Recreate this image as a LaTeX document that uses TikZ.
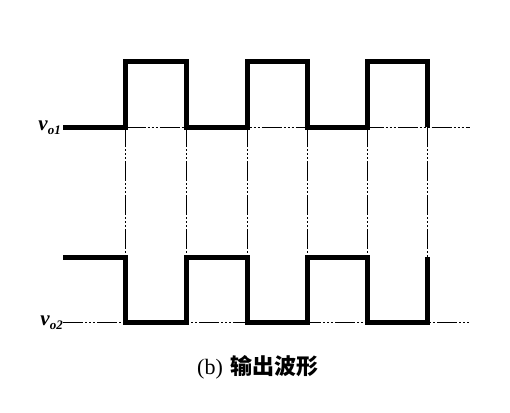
\documentclass[tikz,border=0pt]{standalone}
\usepackage{fontspec}
\setmainfont{Liberation Serif}
\newfontfamily\cjk{Noto Sans CJK SC}
\begin{document}
\begin{tikzpicture}[x=1pt,y=-1pt,
  wave/.style={line width=5pt,line join=miter,line cap=butt},
  guide/.style={line width=0.9pt,dash pattern=on 20pt off 2pt on 2pt off 2pt on 2pt off 2pt on 2pt off 2pt},
  lbl/.style={inner sep=0pt,font=\fontsize{21}{21}\selectfont\bfseries\itshape}]
\useasboundingbox (0,0) rectangle (510,412);
% guide lines
\coordinate (t0) at (63,127);
\coordinate (tend) at (470,127);
\coordinate (b0) at (63,322);
\coordinate (bend) at (470,322);
\draw[guide] (125.5,127) -- (tend);
\draw[guide] (b0) -- (bend);
\foreach \x in {125.5,186,247,307,367,427}{
  \draw[guide] (\x,127) -- (\x,257);
}
% waveforms
\draw[wave] (t0) -| (125.5,61) -| (186,127) -| (247,61) -| (307,127) -| (367,61) -| (427,127);
\draw[wave] (63,257) -| (125.5,322) -| (186,257) -| (247,322) -| (307,257) -| (367,322) -| (427,257);
% labels
\node[lbl,anchor=east] (vo1) at (61,128) {v\raisebox{-0.4ex}{\fontsize{13}{13}\selectfont o1}};
\node[lbl,anchor=east] (vo2) at (63,323) {v\raisebox{-0.4ex}{\fontsize{13}{13}\selectfont o2}};
\node[inner sep=0pt] (cap) at (258,367) {\fontsize{22}{22}\selectfont (b)\hspace{8pt}{\cjk\bfseries 输出波形}};
\end{tikzpicture}
\end{document}
